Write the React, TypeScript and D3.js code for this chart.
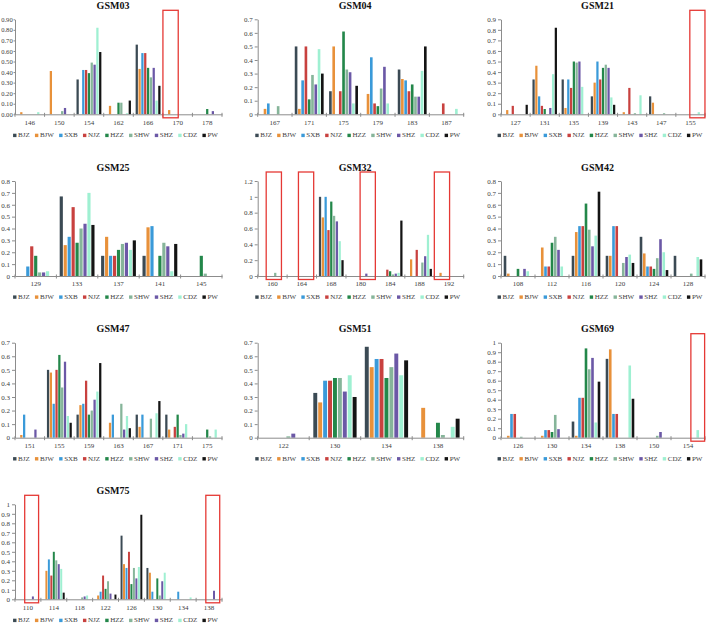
import React, { useEffect, useRef } from "react";
import * as d3 from "d3";

// populations in legend order, one bar each per allele
const populations = ["BJZ", "BJW", "SXB", "NJZ", "HZZ", "SHW", "SHZ", "CDZ", "PW"];
const popColors = [
  "#3b4a54",
  "#e8913a",
  "#3a9ad9",
  "#c8413f",
  "#23874a",
  "#86b59a",
  "#6b58a6",
  "#9ff0d2",
  "#141414",
];

// allele frequencies, one row per allele, columns follow `populations`
const gsm03Alleles = [146, 150, 154, 162, 166, 170, 178];
const gsm03Freq = [
  [0, 0.02, 0, 0, 0, 0, 0, 0.02, 0],
  [0, 0.41, 0, 0, 0, 0.03, 0.06, 0, 0],
  [0.33, 0, 0.42, 0.42, 0.39, 0.49, 0.47, 0.82, 0.59],
  [0, 0.08, 0, 0, 0.11, 0.11, 0, 0.01, 0.13],
  [0.66, 0.43, 0.58, 0.58, 0.44, 0.35, 0.44, 0.13, 0.27],
  [0, 0.04, 0, 0, 0, 0, 0, 0, 0],
  [0, 0, 0, 0, 0.05, 0, 0.03, 0, 0],
];

const gsm04Alleles = [167, 171, 175, 179, 183, 187];
const gsm04Freq = [
  [0, 0.04, 0.08, 0, 0, 0.06, 0, 0, 0],
  [0.5, 0.04, 0.25, 0.5, 0.11, 0.29, 0.22, 0.48, 0.3],
  [0.17, 0.5, 0, 0.17, 0.61, 0.33, 0.31, 0.08, 0.21],
  [0, 0.15, 0.42, 0.08, 0.06, 0.19, 0.35, 0.08, 0],
  [0.33, 0.26, 0.25, 0.17, 0.22, 0.13, 0.13, 0.32, 0.5],
  [0, 0, 0, 0.08, 0, 0, 0, 0.04, 0],
];

const gsm21Alleles = [127, 131, 135, 139, 143, 147, 155];
const gsm21Freq = [
  [0, 0.04, 0, 0.08, 0, 0, 0, 0, 0.09],
  [0.33, 0.46, 0.17, 0.08, 0.05, 0, 0.06, 0.38, 0.82],
  [0.33, 0.06, 0.33, 0.25, 0.5, 0.49, 0.5, 0.26, 0],
  [0.17, 0.3, 0.5, 0.33, 0.44, 0.47, 0.44, 0.16, 0.09],
  [0, 0.02, 0, 0.25, 0, 0.01, 0, 0.18, 0],
  [0.17, 0.11, 0, 0, 0, 0.01, 0, 0, 0],
  [0, 0, 0, 0, 0, 0, 0, 0.02, 0],
];

const gsm25Alleles = [129, 133, 137, 141, 145];
const gsm25Freq = [
  [0, 0, 0.08, 0.25, 0.17, 0.03, 0.03, 0.04, 0],
  [0.67, 0.26, 0.33, 0.58, 0.28, 0.4, 0.44, 0.7, 0.43],
  [0.17, 0.33, 0.17, 0.17, 0.22, 0.27, 0.28, 0.22, 0.3],
  [0.17, 0.41, 0.42, 0, 0.17, 0.28, 0.25, 0.04, 0.27],
  [0, 0, 0, 0, 0.17, 0.02, 0, 0, 0],
];

const gsm32Alleles = [160, 164, 168, 180, 184, 188, 192];
const gsm32Freq = [
  [0, 0, 0, 0, 0, 0.04, 0, 0, 0],
  [0, 0, 0, 0, 0, 0, 0, 0, 0],
  [1, 0.74, 1, 0.58, 0.94, 0.76, 0.69, 0.44, 0.2],
  [0, 0, 0, 0, 0, 0, 0.03, 0, 0],
  [0, 0, 0, 0.08, 0.06, 0.02, 0.03, 0.04, 0.7],
  [0, 0.21, 0, 0.33, 0, 0.17, 0.25, 0.52, 0.09],
  [0, 0.04, 0, 0, 0, 0, 0, 0, 0],
];

const gsm42Alleles = [108, 112, 116, 120, 124, 128];
const gsm42Freq = [
  [0.17, 0.02, 0, 0, 0.06, 0, 0.06, 0.04, 0],
  [0, 0.24, 0.08, 0.08, 0.28, 0.33, 0.22, 0.08, 0],
  [0.17, 0.37, 0.42, 0.42, 0.61, 0.39, 0.25, 0.34, 0.71],
  [0.17, 0.17, 0.42, 0.42, 0, 0.11, 0.16, 0.18, 0.11],
  [0.33, 0.19, 0.08, 0.08, 0.06, 0.15, 0.31, 0.2, 0.05],
  [0.17, 0, 0, 0, 0, 0.02, 0, 0.16, 0.14],
];

const gsm47Alleles = [151, 155, 159, 163, 167, 171, 175];
const gsm47Freq = [
  [0, 0.02, 0.17, 0, 0, 0, 0.06, 0, 0],
  [0.5, 0.48, 0.25, 0.5, 0.61, 0.37, 0.56, 0.16, 0.11],
  [0.17, 0.24, 0.25, 0.42, 0.17, 0.2, 0.28, 0.34, 0.55],
  [0, 0.11, 0.17, 0, 0, 0.25, 0.06, 0.16, 0.07],
  [0.17, 0.08, 0.17, 0, 0, 0.14, 0, 0.18, 0.27],
  [0.17, 0.06, 0, 0.08, 0.17, 0.02, 0.03, 0.1, 0],
  [0, 0, 0, 0, 0.06, 0.01, 0, 0.06, 0],
];

const gsm51Alleles = [122, 130, 134, 138];
const gsm51Freq = [
  [0, 0, 0, 0, 0, 0.01, 0.03, 0, 0],
  [0.33, 0.26, 0.42, 0.42, 0.44, 0.44, 0.34, 0.46, 0.3],
  [0.67, 0.52, 0.58, 0.58, 0.44, 0.52, 0.62, 0.46, 0.57],
  [0, 0.22, 0, 0, 0.11, 0.02, 0, 0.08, 0.14],
];

const gsm69Alleles = [126, 130, 134, 138, 150, 154];
const gsm69Freq = [
  [0, 0.02, 0.25, 0.25, 0, 0.01, 0, 0, 0],
  [0, 0.02, 0.08, 0.08, 0.06, 0.24, 0.09, 0, 0],
  [0.17, 0.02, 0.42, 0.42, 0.94, 0.72, 0.84, 0.16, 0.59],
  [0.83, 0.93, 0.25, 0.25, 0, 0, 0, 0.76, 0.41],
  [0, 0, 0, 0, 0, 0.02, 0.06, 0, 0],
  [0, 0, 0, 0, 0, 0, 0, 0.08, 0],
];

const gsm75Alleles = [110, 114, 118, 122, 126, 130, 134, 138];
const gsm75Freq = [
  [0, 0, 0, 0, 0, 0, 0.03, 0, 0],
  [0, 0.3, 0.42, 0.25, 0.5, 0.41, 0.37, 0.32, 0.07],
  [0, 0, 0, 0, 0, 0.02, 0.03, 0.04, 0],
  [0, 0.04, 0.08, 0.25, 0.11, 0.19, 0.06, 0, 0.05],
  [0.67, 0.37, 0.33, 0.5, 0.16, 0.33, 0.22, 0.34, 0.89],
  [0.33, 0.28, 0.08, 0, 0.22, 0.04, 0.19, 0.28, 0],
  [0, 0, 0.08, 0, 0, 0, 0, 0.02, 0],
  [0, 0, 0, 0, 0, 0, 0.09, 0, 0],
];

const panels = [
  { name: "GSM03", alleles: gsm03Alleles, freq: gsm03Freq, yMax: 0.9, yStep: 0.1, fmt: ".2f" },
  { name: "GSM04", alleles: gsm04Alleles, freq: gsm04Freq, yMax: 0.7, yStep: 0.1, fmt: "~g" },
  { name: "GSM21", alleles: gsm21Alleles, freq: gsm21Freq, yMax: 0.9, yStep: 0.1, fmt: "~g" },
  { name: "GSM25", alleles: gsm25Alleles, freq: gsm25Freq, yMax: 0.8, yStep: 0.1, fmt: "~g" },
  { name: "GSM32", alleles: gsm32Alleles, freq: gsm32Freq, yMax: 1.2, yStep: 0.2, fmt: "~g" },
  { name: "GSM42", alleles: gsm42Alleles, freq: gsm42Freq, yMax: 0.8, yStep: 0.1, fmt: "~g" },
  { name: "GSM47", alleles: gsm47Alleles, freq: gsm47Freq, yMax: 0.7, yStep: 0.1, fmt: "~g" },
  { name: "GSM51", alleles: gsm51Alleles, freq: gsm51Freq, yMax: 0.7, yStep: 0.1, fmt: "~g" },
  { name: "GSM69", alleles: gsm69Alleles, freq: gsm69Freq, yMax: 1, yStep: 0.1, fmt: "~g" },
  { name: "GSM75", alleles: gsm75Alleles, freq: gsm75Freq, yMax: 1, yStep: 0.1, fmt: "~g" },
];

// red frames around alleles of interest (series index range inside the allele group)
const highlights = [
  { panel: "GSM03", allele: 170, from: 0, to: 3 },
  { panel: "GSM21", allele: 155, from: 5, to: 8 },
  { panel: "GSM32", allele: 160, from: 3, to: 6 },
  { panel: "GSM32", allele: 164, from: 4, to: 7 },
  { panel: "GSM32", allele: 180, from: 5, to: 8 },
  { panel: "GSM32", allele: 192, from: 0, to: 3 },
  { panel: "GSM69", allele: 154, from: 6, to: 8 },
  { panel: "GSM75", allele: 110, from: 4, to: 7 },
  { panel: "GSM75", allele: 138, from: 4, to: 7 },
];

const width = 709;
const height = 624;
const colLeft = [15, 257.7, 501];
const colRight = [222, 463.7, 705];
const rowTop = [19.3, 181, 342.7, 504.3];
const plotH = 95;
const font = "'Liberation Serif', 'Times New Roman', serif";
const axisColor = "#8c8c8c";
const textColor = "#404040";

const App = () => {
  const svgRef = useRef<SVGSVGElement>(null);

  useEffect(() => {
    const svg = d3.select(svgRef.current);
    svg.selectAll("*").remove();

    panels.forEach((p, i) => {
      const col = i % 3;
      const row = Math.floor(i / 3);
      const x0 = colLeft[col];
      const x1 = colRight[col];
      const top = rowTop[row];
      const bottom = top + plotH;
      const mid = (x0 + x1) / 2;

      const g = svg.append("g").attr("font-family", font);

      const x = d3
        .scaleBand<string>()
        .domain(p.alleles.map(String))
        .range([x0, x1]);
      const pad = x.bandwidth() * 0.07;
      const xs = d3
        .scaleBand<string>()
        .domain(populations)
        .range([pad, x.bandwidth() - pad]);
      const y = d3.scaleLinear().domain([0, p.yMax]).range([bottom, top]);

      // title
      g.append("text")
        .attr("x", mid - 5.5)
        .attr("y", top - 10.5)
        .attr("text-anchor", "middle")
        .attr("font-size", 10)
        .attr("font-weight", "bold")
        .attr("fill", "#111")
        .text(p.name);

      // bars
      const bars = p.alleles.flatMap((a, ai) =>
        populations.map((pop, pi) => ({ allele: String(a), pop, pi, v: p.freq[ai][pi] }))
      );
      g.append("g")
        .selectAll("rect")
        .data(bars.filter((d) => d.v > 0))
        .join("rect")
        .attr("x", (d) => x(d.allele)! + xs(d.pop)! + xs.bandwidth() * 0.1)
        .attr("width", xs.bandwidth() * 0.8)
        .attr("y", (d) => y(d.v))
        .attr("height", (d) => bottom - y(d.v))
        .attr("fill", (d) => popColors[d.pi]);

      // y axis (the two-decimal labels sit closer to the line so they fit the page)
      const wide = p.fmt === ".2f";
      const nTicks = Math.round(p.yMax / p.yStep);
      const yAxis = d3
        .axisLeft(y)
        .tickValues(d3.range(nTicks + 1).map((k) => k * p.yStep))
        .tickFormat(d3.format(p.fmt))
        .tickSizeInner(wide ? 1.5 : 3)
        .tickSizeOuter(0)
        .tickPadding(wide ? 0.8 : 2);
      const ya = g.append("g").attr("transform", `translate(${x0},0)`).call(yAxis);
      ya.select(".domain").attr("stroke", axisColor);
      ya.selectAll(".tick line").attr("stroke", axisColor);
      ya.selectAll("text")
        .attr("font-size", wide ? 6.6 : 7)
        .attr("fill", textColor)
        .attr("font-family", font);

      // x axis: labels at group centres, ticks between groups
      const xAxis = d3.axisBottom(x).tickSize(0).tickPadding(5.5);
      const xa = g.append("g").attr("transform", `translate(0,${bottom})`).call(xAxis);
      xa.select(".domain").attr("stroke", axisColor);
      xa.selectAll("text").attr("font-size", 7).attr("fill", textColor).attr("font-family", font);
      g.append("g")
        .selectAll("line")
        .data(d3.range(p.alleles.length + 1))
        .join("line")
        .attr("x1", (k) => x0 + k * x.step())
        .attr("x2", (k) => x0 + k * x.step())
        .attr("y1", bottom - 1.5)
        .attr("y2", bottom + 2.5)
        .attr("stroke", axisColor);

      // legend
      const lg = g.append("g");
      const items = lg
        .selectAll("g")
        .data(populations)
        .join("g");
      items
        .append("rect")
        .attr("y", -3.6)
        .attr("width", 3.4)
        .attr("height", 3.4)
        .attr("fill", (d, k) => popColors[k]);
      items
        .append("text")
        .attr("x", 5)
        .attr("font-size", 7)
        .attr("fill", textColor)
        .text((d) => d);
      let cursor = 0;
      items.each(function () {
        const node = this as SVGGElement;
        d3.select(node).attr("transform", `translate(${cursor},0)`);
        const t = node.querySelector("text") as SVGTextElement;
        cursor += 5 + t.getComputedTextLength() + 5.2;
      });
      const total = cursor - 5.2;
      lg.attr("transform", `translate(${mid - 3 - total / 2},${bottom + 23})`);

      // highlight frames
      highlights
        .filter((h) => h.panel === p.name)
        .forEach((h) => {
          const a = String(h.allele);
          const left = x(a)! + xs(populations[h.from])! - 2;
          const right = x(a)! + xs(populations[h.to])! + xs.bandwidth() + 2;
          g.append("rect")
            .attr("x", left)
            .attr("y", top - 9)
            .attr("width", right - left)
            .attr("height", bottom + 3.5 - (top - 9))
            .attr("fill", "none")
            .attr("stroke", "#e53935")
            .attr("stroke-width", 1.3);
        });
    });
  }, []);

  return (
    <svg
      ref={svgRef}
      width={width}
      height={height}
      style={{ position: "absolute", left: 0, top: 0, background: "#fff" }}
    ></svg>
  );
};

export default App;
